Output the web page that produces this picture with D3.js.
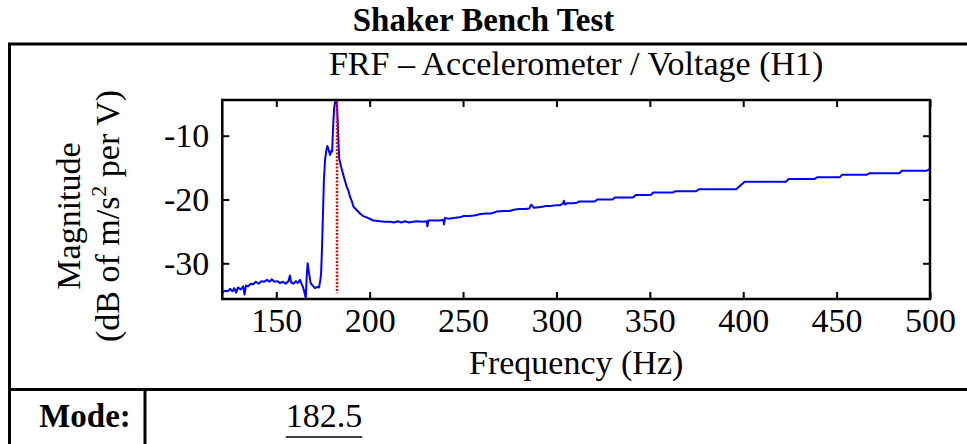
<!DOCTYPE html>
<html>
<head>
<meta charset="utf-8">
<script src="https://cdn.jsdelivr.net/npm/d3@7"></script>
<style>
  html, body { margin: 0; padding: 0; background: #fff; }
  svg { display: block; }
  text { font-family: "Liberation Serif", "Times New Roman", serif; fill: #000; }
</style>
</head>
<body>
<svg id="chart" width="967" height="444"></svg>
<script>
// Frequency response function magnitude, accelerometer over drive voltage (H1 estimator)
const frequencyHz = [
  121.0, 122.5, 124.0, 125.2, 126.5, 127.5, 128.5, 129.5, 131.0, 132.3,
  133.0, 133.8, 135.0, 136.3, 137.7, 139.0, 140.5, 142.0, 143.5, 145.0,
  146.5, 147.5, 149.0, 150.5, 152.0, 153.5, 155.0, 156.5, 157.3, 158.0,
  159.1, 160.5, 161.5, 162.7, 163.5, 164.5, 165.3, 165.8, 166.3, 166.8,
  167.5, 168.4, 169.5, 170.7, 172.0, 172.9, 173.6, 174.0, 174.5, 174.9,
  175.5, 176.1, 176.8, 177.3, 178.0, 178.8, 179.4, 179.9, 180.5, 181.0,
  181.4, 182.3, 182.8, 183.2, 183.7, 185.0, 186.3, 187.7, 188.6, 189.5,
  190.5, 191.3, 192.5, 194.8, 196.5, 198.4, 200.5, 202.0, 205.5, 208.0,
  211.3, 213.0, 215.0, 217.0, 219.0, 221.0, 223.0, 225.5, 228.0, 230.5,
  230.9, 231.4, 234.0, 237.0, 239.5, 239.8, 240.3, 242.0, 245.0, 248.0,
  250.4, 253.0, 256.0, 258.7, 262.0, 265.0, 268.0, 272.0, 275.0, 277.2,
  280.0, 283.0, 285.5, 286.5, 288.0, 290.5, 293.0, 294.7, 297.0, 300.0,
  302.0, 303.5, 304.0, 304.5, 305.5, 309.0, 311.0, 312.2, 320.5, 322.0,
  330.0, 331.2, 341.0, 342.5, 350.5, 351.8, 362.5, 363.7, 374.8, 376.2,
  396.2, 398.5, 400.8, 423.0, 424.2, 438.3, 439.5, 451.8, 453.0, 466.2,
  467.5, 483.6, 484.8, 498.0, 499.2, 500.0
];
const magnitudeDb = [
  -34.6, -34.3, -34.4, -34.0, -34.4, -33.9, -34.6, -33.8, -34.1, -33.6,
  -34.9, -33.5, -33.6, -33.2, -33.3, -32.9, -33.2, -32.8, -32.9, -32.6,
  -32.9, -32.5, -32.9, -32.8, -33.1, -32.9, -33.2, -32.8, -31.9, -33.0,
  -33.2, -32.8, -33.1, -32.6, -33.2, -33.9, -34.8, -35.5, -32.0, -30.0,
  -31.5, -33.1, -33.5, -33.9, -33.7, -33.8, -32.6, -31.6, -27.5, -23.2,
  -17.0, -13.8, -12.3, -11.6, -12.2, -13.0, -12.4, -12.5, -8.1, -5.6,
  -4.8, -4.4, -7.0, -10.2, -13.6, -15.2, -16.6, -18.0, -18.6, -19.6,
  -20.3, -21.1, -21.5, -22.2, -22.6, -22.8, -23.1, -23.3, -23.4, -23.5,
  -23.5, -23.6, -23.4, -23.6, -23.4, -23.6, -23.5, -23.4, -23.5, -23.4,
  -24.2, -23.3, -23.3, -23.3, -23.2, -23.9, -22.9, -23.0, -22.9, -22.8,
  -22.6, -22.6, -22.5, -22.3, -22.2, -22.2, -21.9, -21.8, -21.8, -21.6,
  -21.5, -21.5, -21.4, -20.8, -21.3, -21.2, -21.1, -21.0, -21.0, -20.9,
  -20.9, -20.6, -20.2, -20.8, -20.6, -20.6, -20.5, -20.3, -20.3, -20.0,
  -20.0, -19.7, -19.7, -19.3, -19.3, -18.9, -18.9, -18.7, -18.7, -18.4,
  -18.4, -17.8, -17.2, -17.2, -16.8, -16.8, -16.5, -16.5, -16.1, -16.1,
  -15.9, -15.9, -15.5, -15.5, -15.3, -15.3
];

// Axis limits and ticks
const freqLimits = [121.1, 500];
const magLimits = [-35.6, -4.4];
const freqTicks = [150, 200, 250, 300, 350, 400, 450, 500];
const magTicks = [-30, -20, -10];

// Picked mode: dotted marker spans these magnitudes
const modeFrequency = 182.5;
const modeMarkerDb = [-34.7, -4.4];

const chartTitle = "Shaker Bench Test";
const plotTitle = "FRF \u2013 Accelerometer / Voltage (H1)";
const xLabel = "Frequency (Hz)";
const modeLabel = "Mode:";

const svg = d3.select("#chart");
const FS = 34;

const plot = { left: 222.3, right: 930, top: 100, bottom: 299 };
const x = d3.scaleLinear().domain(freqLimits).range([plot.left, plot.right]);
const y = d3.scaleLinear().domain(magLimits).range([plot.bottom, plot.top]);

// Outer frame and the mode table row
const frame = svg.append("g").attr("fill", "none").attr("stroke", "#000").attr("stroke-width", 3);
frame.append("rect").attr("x", 9.5).attr("y", 44).attr("width", 1000).attr("height", 460);
frame.append("line").attr("x1", 9.5).attr("x2", 1000).attr("y1", 389.5).attr("y2", 389.5);
frame.append("line").attr("x1", 145).attr("x2", 145).attr("y1", 389.5).attr("y2", 460);

// Titles
svg.append("text").attr("x", 483.5).attr("y", 31).attr("text-anchor", "middle")
  .attr("font-size", 33).attr("font-weight", "bold").text(chartTitle);
svg.append("text").attr("x", (plot.left + plot.right) / 2).attr("y", 75).attr("text-anchor", "middle")
  .attr("font-size", FS).text(plotTitle);

// Data curve, clipped to the axes box
svg.append("clipPath").attr("id", "plotClip").append("rect")
  .attr("x", plot.left).attr("y", plot.top - 1)
  .attr("width", plot.right - plot.left).attr("height", plot.bottom - plot.top + 2);

const pts = frequencyHz.map((f, i) => [f, magnitudeDb[i]]);
const line = d3.line().x(d => x(d[0])).y(d => y(d[1]));
svg.append("path").datum(pts)
  .attr("clip-path", "url(#plotClip)")
  .attr("fill", "none").attr("stroke", "#0000ff").attr("stroke-width", 2)
  .attr("stroke-linejoin", "round").attr("d", line);

// Mode marker
svg.append("line")
  .attr("x1", x(modeFrequency)).attr("x2", x(modeFrequency))
  .attr("y1", y(modeMarkerDb[1])).attr("y2", y(modeMarkerDb[0]))
  .attr("stroke", "#ff0000").attr("stroke-width", 2.5).attr("stroke-dasharray", "2,1.5");

// Axes (ticks point inward on all four sides)
const TL = 7;
const styleAxis = g => {
  g.select(".domain").remove();
  g.selectAll(".tick line").attr("stroke", "#000").attr("stroke-width", 2);
  g.selectAll(".tick text").attr("font-size", FS).attr("font-family", "Liberation Serif, Times New Roman, serif").attr("fill", "#000");
};
svg.append("g").attr("transform", `translate(0,${plot.bottom})`)
  .call(d3.axisBottom(x).tickValues(freqTicks).tickSizeInner(-TL).tickSizeOuter(0).tickPadding(9))
  .call(styleAxis)
  .selectAll(".tick text").attr("dy", "0.71em");
svg.append("g").attr("transform", `translate(0,${plot.top})`)
  .call(d3.axisTop(x).tickValues(freqTicks).tickSizeInner(-TL).tickSizeOuter(0).tickFormat(""))
  .call(styleAxis);
svg.append("g").attr("transform", `translate(${plot.left},0)`)
  .call(d3.axisLeft(y).tickValues(magTicks).tickSizeInner(-TL).tickSizeOuter(0).tickPadding(13)
    .tickFormat(d => String(d)))
  .call(styleAxis);
svg.append("g").attr("transform", `translate(${plot.right},0)`)
  .call(d3.axisRight(y).tickValues(magTicks).tickSizeInner(-TL).tickSizeOuter(0).tickFormat(""))
  .call(styleAxis);

svg.append("rect")
  .attr("x", plot.left).attr("y", plot.top)
  .attr("width", plot.right - plot.left).attr("height", plot.bottom - plot.top)
  .attr("fill", "none").attr("stroke", "#000").attr("stroke-width", 2.5);

// Axis labels
svg.append("text").attr("x", (plot.left + plot.right) / 2).attr("y", 374)
  .attr("text-anchor", "middle").attr("font-size", FS).text(xLabel);

const yl = svg.append("g").attr("transform", "translate(0,216) rotate(-90)");
yl.append("text").attr("x", 0).attr("y", 80).attr("text-anchor", "middle")
  .attr("font-size", FS).text("Magnitude");
const yl2 = yl.append("text").attr("x", 0).attr("y", 119).attr("text-anchor", "middle").attr("font-size", FS);
yl2.append("tspan").text("(dB of m/s");
yl2.append("tspan").attr("dy", -13).attr("font-size", 22).text("2");
yl2.append("tspan").attr("dy", 13).text(" per V)");

// Mode row
svg.append("text").attr("x", 85).attr("y", 427).attr("text-anchor", "middle")
  .attr("font-size", 33).attr("font-weight", "bold").text(modeLabel);
const mv = svg.append("text").attr("x", 324).attr("y", 427).attr("text-anchor", "middle")
  .attr("font-size", FS).text(String(modeFrequency));
const bb = mv.node().getBBox();
svg.append("line").attr("x1", bb.x).attr("x2", bb.x + bb.width)
  .attr("y1", 437).attr("y2", 437).attr("stroke", "#000").attr("stroke-width", 1.5);
</script>
</body>
</html>
